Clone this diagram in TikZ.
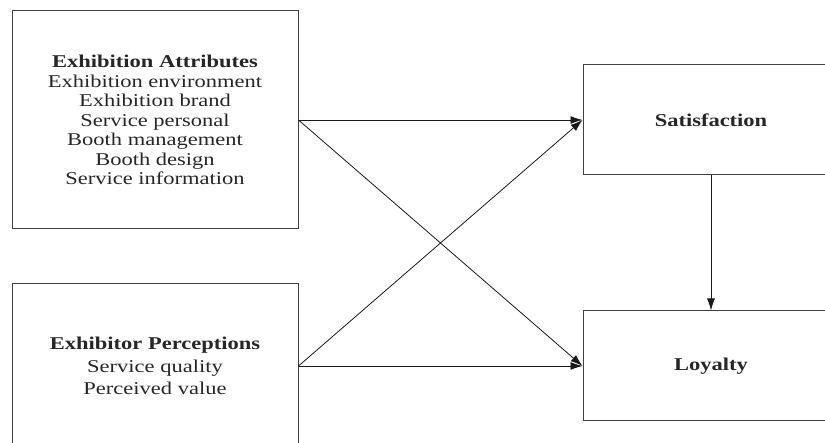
\documentclass[tikz,border=0pt]{standalone}
\usepackage{fontspec}
\setmainfont{Liberation Serif}[FakeStretch=1.25]
\usetikzlibrary{arrows.meta}

\begin{document}
\begin{tikzpicture} [x=1pt, y=-1pt,
  box/.style={draw=black!75, line width=1pt, inner sep=0pt, align=center, text=black!85},
  link/.style={-{Latex[length=12pt,width=8pt]}, line width=0.8pt, black!90}]
\clip (0,0) rectangle (825,443);

\node[box, minimum width=286pt, minimum height=218pt, font=\fontsize{18}{19.5}\selectfont] (attr) at (155,120)
  {\textbf{Exhibition Attributes}\\Exhibition environment\\Exhibition brand\\Service personal\\Booth management\\Booth design\\Service information};
\node[box, minimum width=286pt, minimum height=164pt, font=\fontsize{18}{22.5}\selectfont] (perc) at (155,366)
  {\textbf{Exhibitor Perceptions}\\Service quality\\Perceived value};

\node[box, minimum width=256pt, minimum height=110pt, font=\fontsize{18}{20}\selectfont\bfseries] (sat) at (711,120) {Satisfaction};
\node[box, minimum width=256pt, minimum height=110pt, font=\fontsize{18}{20}\selectfont\bfseries] (loy) at (711,366) {Loyalty};

\draw[link] (attr.east) -- (sat.west);
\draw[link] (attr.east) -- (loy.west);
\draw[link] (perc.east) -- (sat.west);
\draw[link] (perc.east) -- (loy.west);
\draw[link] (sat.south) -- (loy.north);

\end{tikzpicture}
\end{document}
